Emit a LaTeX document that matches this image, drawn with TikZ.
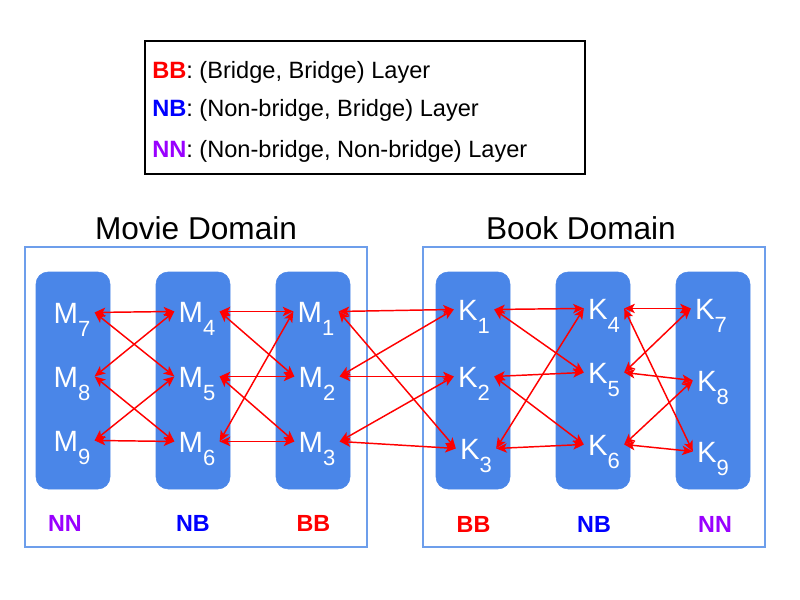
\documentclass[tikz,border=0pt]{standalone}
\usepackage{fontspec}
\setmainfont{Liberation Sans}
\usetikzlibrary{arrows.meta}

\definecolor{colfill}{HTML}{4A86E8}
\definecolor{domline}{HTML}{6D9EEB}
\definecolor{bbred}{HTML}{FF0000}
\definecolor{nbblue}{HTML}{0000FF}
\definecolor{nnpurple}{HTML}{9900FF}

\newcommand{\vtx}[2]{#1\raisebox{-9.75pt}{\fontsize{16.5pt}{16.5pt}\selectfont #2}}

\tikzset{
  vertex/.style={text=white, font=\fontsize{22pt}{22pt}\selectfont, inner xsep=3pt, inner ysep=0pt, text height=15.8pt, text depth=0pt, anchor=base},
  colbox/.style={fill=colfill, draw=colfill, rounded corners=9pt},
  dombox/.style={draw=domline, line width=1.5pt},
  biarr/.style={draw=bbred, line width=1.1pt, {Stealth[length=8pt,width=7pt,inset=2pt]}-{Stealth[length=8pt,width=7pt,inset=2pt]}},
  tag/.style={font=\fontsize{17.5pt}{17.5pt}\selectfont\bfseries, anchor=base, inner sep=0pt},
  legtext/.style={font=\fontsize{17.7pt}{17.7pt}\selectfont, anchor=base west, inner sep=0pt},
  domtitle/.style={font=\fontsize{23.7pt}{23.7pt}\selectfont, anchor=base, inner sep=0pt}
}

\begin{document}
\begin{tikzpicture}[x=0.75pt,y=0.75pt,yscale=-1,xscale=1]
\useasboundingbox (0,0) rectangle (800,600);

% Legend
\draw [line width=1.2pt] (145,41) rectangle (585,174);
\node [legtext] (legbb) at (152,78) {\textbf{\color{bbred}BB}: (Bridge, Bridge) Layer};
\node [legtext] (legnb) at (152,116) {\textbf{\color{nbblue}NB}: (Non-bridge, Bridge) Layer};
\node [legtext] (legnn) at (152,157.5) {\textbf{\color{nnpurple}NN}: (Non-bridge, Non-bridge) Layer};

% Domains
\node [domtitle] (movtitle) at (196,239) {Movie Domain};
\node [domtitle] (booktitle) at (581,239) {Book Domain};
\draw [dombox] (25,247) rectangle (367,547);
\draw [dombox] (423,247) rectangle (765,547);

% Layer columns
\draw [colbox] (36,272) rectangle (110,489);
\draw [colbox] (156,272) rectangle (230,489);
\draw [colbox] (276,272) rectangle (350,489);
\draw [colbox] (436,272) rectangle (510,489);
\draw [colbox] (556,272) rectangle (630,489);
\draw [colbox] (676,272) rectangle (750,489);

% Layer tags
\node [tag, text=nnpurple] (tagmnn) at (65,531) {NN};
\node [tag, text=nbblue] (tagmnb) at (193,531) {NB};
\node [tag, text=bbred] (tagmbb) at (313.5,531) {BB};
\node [tag, text=bbred] (tagkbb) at (473.5,532) {BB};
\node [tag, text=nbblue] (tagknb) at (594,532) {NB};
\node [tag, text=nnpurple] (tagknn) at (715,532) {NN};

% Text Node
\node [vertex] (m7) at (72,323) {\vtx{M}{7}};
\node [vertex] (m8) at (72,387) {\vtx{M}{8}};
\node [vertex] (m9) at (72,451) {\vtx{M}{9}};
% Text Node
\node [vertex] (m4) at (197,322) {\vtx{M}{4}};
\node [vertex] (m5) at (197,387) {\vtx{M}{5}};
\node [vertex] (m6) at (197,452) {\vtx{M}{6}};
% Text Node
\node [vertex] (m1) at (316,322) {\vtx{M}{1}};
\node [vertex] (m2) at (317,387) {\vtx{M}{2}};
\node [vertex] (m3) at (317,452) {\vtx{M}{3}};
% Text Node
\node [vertex] (k1) at (474,320) {\vtx{K}{1}};
\node [vertex] (k2) at (474,387) {\vtx{K}{2}};
\node [vertex] (k3) at (476,459) {\vtx{K}{3}};
% Text Node
\node [vertex] (k4) at (604,319) {\vtx{K}{4}};
\node [vertex] (k5) at (604,383) {\vtx{K}{5}};
\node [vertex] (k6) at (604,455) {\vtx{K}{6}};
% Text Node
\node [vertex] (k7) at (711,319) {\vtx{K}{7}};
\node [vertex] (k8) at (713,391) {\vtx{K}{8}};
\node [vertex] (k9) at (713,462) {\vtx{K}{9}};

% Connection
\draw [biarr] (m7.east) -- (m4.west);
\draw [biarr] (m7.east) -- (m5.west);
\draw [biarr] (m8.east) -- (m4.west);
\draw [biarr] (m8.east) -- (m6.west);
\draw [biarr] (m9.east) -- (m5.west);
\draw [biarr] (m9.east) -- (m6.west);
% Connection
\draw [biarr] (m4.east) -- (m1.west);
\draw [biarr] (m4.east) -- (m2.west);
\draw [biarr] (m5.east) -- (m2.west);
\draw [biarr] (m5.east) -- (m3.west);
\draw [biarr] (m6.east) -- (m1.west);
\draw [biarr] (m6.east) -- (m3.west);
% Connection
\draw [biarr] (m1.east) -- (k1.west);
\draw [biarr] (m1.east) -- (k3.west);
\draw [biarr] (m2.east) -- (k1.west);
\draw [biarr] (m2.east) -- (k2.west);
\draw [biarr] (m3.east) -- (k2.west);
\draw [biarr] (m3.east) -- (k3.west);
% Connection
\draw [biarr] (k1.east) -- (k4.west);
\draw [biarr] (k1.east) -- (k5.west);
\draw [biarr] (k2.east) -- (k5.west);
\draw [biarr] (k2.east) -- (k6.west);
\draw [biarr] (k3.east) -- (k4.west);
\draw [biarr] (k3.east) -- (k6.west);
% Connection
\draw [biarr] (k4.east) -- (k7.west);
\draw [biarr] (k4.east) -- (k9.west);
\draw [biarr] (k5.east) -- (k7.west);
\draw [biarr] (k5.east) -- (k8.west);
\draw [biarr] (k6.east) -- (k8.west);
\draw [biarr] (k6.east) -- (k9.west);

\end{tikzpicture}
\end{document}
